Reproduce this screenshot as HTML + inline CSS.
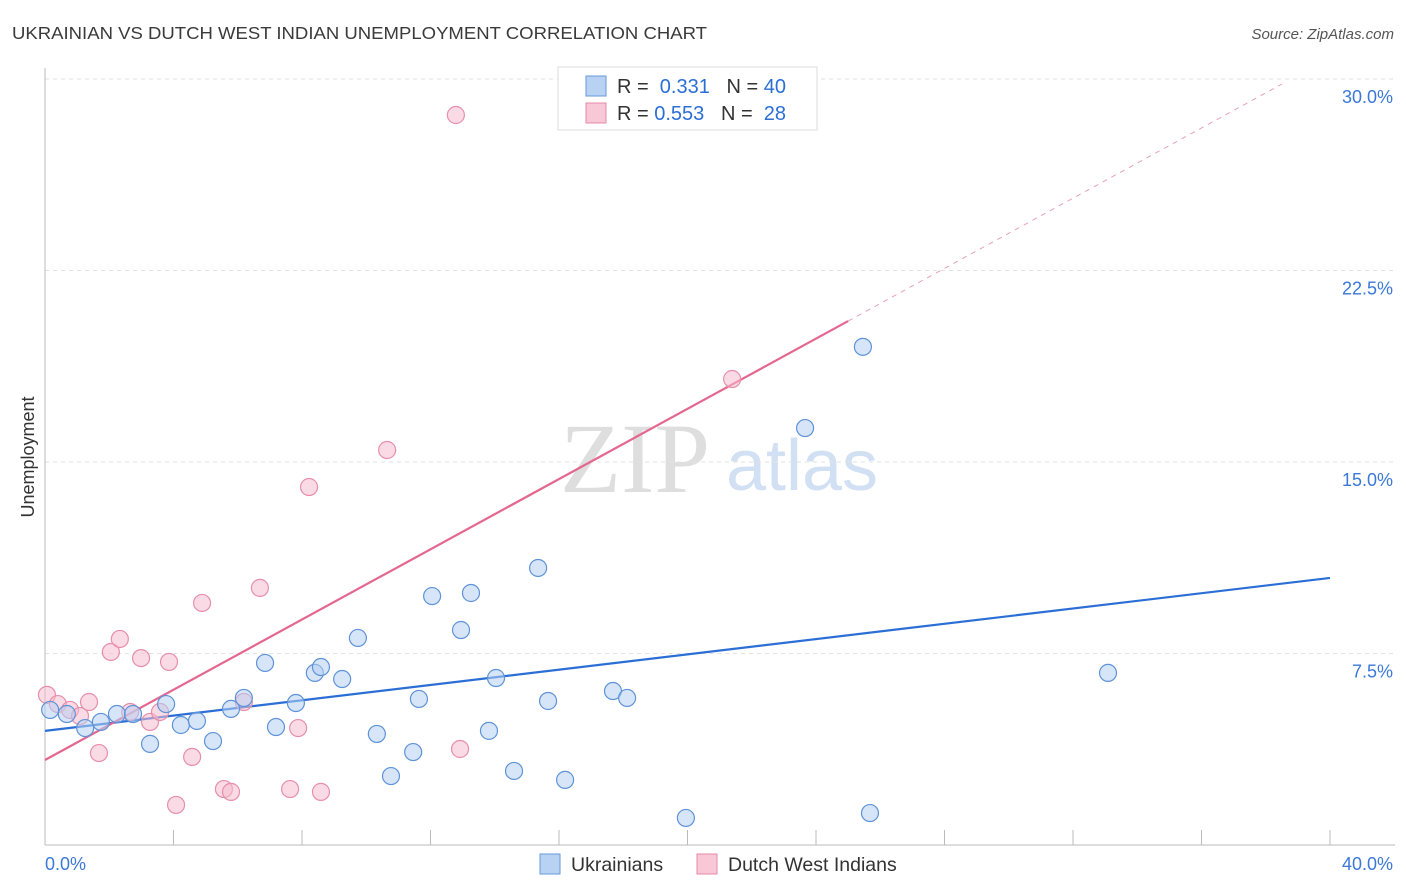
<!DOCTYPE html>
<html><head><meta charset="utf-8"><style>
body{margin:0;background:#fff;font-family:"Liberation Sans",sans-serif;}
svg{display:block}
</style></head><body>
<svg id="chart" width="1406" height="892" viewBox="0 0 1406 892" xmlns="http://www.w3.org/2000/svg">
<text x="12" y="39" font-size="17.5" fill="#3a3a3a" textLength="695" lengthAdjust="spacingAndGlyphs">UKRAINIAN VS DUTCH WEST INDIAN UNEMPLOYMENT CORRELATION CHART</text>
<text x="1394" y="39" font-size="15" fill="#555" font-style="italic" text-anchor="end">Source: ZipAtlas.com</text>
<g>
<text x="635" y="492" font-family="Liberation Serif,serif" font-size="100" fill="#dedede" text-anchor="middle">ZIP</text>
<text x="802" y="490" font-size="72" fill="#d2e0f4" text-anchor="middle">atlas</text>
</g>
<g id="grid"></g>
<g id="axes"></g>
<g id="lines"></g>
<g id="points"></g>
<g>
<rect x="558" y="67" width="259" height="63" fill="#fff" stroke="#ddd"/>
<rect x="586" y="76" width="20" height="20" fill="#b8d2f4" stroke="#6a9ad8"/>
<rect x="586" y="103" width="20" height="20" fill="#f8c8d6" stroke="#e48aa8"/>
<text x="617" y="93" font-size="20" fill="#333">R = <tspan fill="#2b6fd6">&#160;0.331</tspan>&#160;&#160;&#160;N = <tspan fill="#2b6fd6">40</tspan></text>
<text x="617" y="120" font-size="20" fill="#333">R = <tspan fill="#2b6fd6">0.553</tspan>&#160;&#160;&#160;N = <tspan fill="#2b6fd6">&#160;28</tspan></text>
</g>
<g>
<rect x="540" y="854" width="20" height="20" fill="#b8d2f4" stroke="#6a9ad8"/>
<text x="571" y="871" font-size="19.5" fill="#333">Ukrainians</text>
<rect x="697" y="854" width="20" height="20" fill="#f8c8d6" stroke="#e48aa8"/>
<text x="728" y="871" font-size="19.5" fill="#333">Dutch West Indians</text>
</g>
<text transform="translate(34,457) rotate(-90)" font-size="18" fill="#333" text-anchor="middle">Unemployment</text>
</svg>
<script>
const yTicks=[7.5,15,22.5,30];
const yTickLabels=["7.5%","15.0%","22.5%","30.0%"];
const xTicks=[0,4,8,12,16,20,24,28,32,36,40];
const blueX=[0.68,1.25,1.74,2.24,2.74,3.27,3.77,4.23,4.73,5.23,5.79,6.19,6.85,7.19,7.81,8.40,8.59,9.25,9.74,10.33,10.77,11.46,11.64,12.05,12.95,13.26,13.82,14.04,14.60,15.35,15.66,16.19,17.68,18.12,19.95,23.66,25.46,25.68,33.09,0.16];
const blueY=[5.13,4.58,4.82,5.13,5.13,3.96,5.52,4.70,4.86,4.07,5.33,5.76,7.13,4.62,5.56,6.74,6.97,6.50,8.11,4.35,2.70,3.64,5.72,9.75,8.42,9.87,4.47,6.54,2.90,10.85,5.64,2.55,6.03,5.76,1.06,16.33,19.51,1.25,6.74,5.29];
const pinkX=[0.06,0.40,0.78,1.09,1.37,1.68,2.05,2.33,2.65,2.99,3.27,3.58,3.86,4.08,4.58,4.89,5.57,5.79,6.19,6.69,7.63,7.88,8.22,8.59,10.65,12.79,12.92,21.39];
const pinkY=[5.88,5.52,5.29,5.05,5.60,3.60,7.56,8.07,5.21,7.32,4.82,5.21,7.17,1.57,3.45,9.48,2.19,2.08,5.60,10.07,2.19,4.58,14.02,2.08,15.47,28.59,3.76,18.25];
const blueLine=[[0,4.47],[40,10.46]];
const pinkLine=[[0,3.33],[25,20.52]];
const pinkDash=[[25,20.52],[38.5,29.8]];
const NS="http://www.w3.org/2000/svg";
const X=v=>45+v*(1285/40);
const Y=v=>845-v*(766/30);
function mk(t,a,p){const e=document.createElementNS(NS,t);for(const k in a)e.setAttribute(k,a[k]);p.appendChild(e);return e;}
const grid=document.getElementById('grid'),axes=document.getElementById('axes'),lines=document.getElementById('lines'),pts=document.getElementById('points');
yTicks.forEach((t,i)=>{
 const l=mk('line',{x1:45,x2:1395,y1:Y(t),y2:Y(t),stroke:'#e2e2e2','stroke-dasharray':'4,4'},grid);
 
 
 const tx=mk('text',{x:1393,y:Y(t)+24,'font-size':18,fill:'#3b78d8','text-anchor':'end'},axes);
 tx.textContent=yTickLabels[i];
 
 
});
const ax=mk('line',{x1:45,x2:1395,y1:845,y2:845,stroke:'#bbb'},axes);


const ay=mk('line',{x1:45,x2:45,y1:68,y2:845,stroke:'#bbb'},axes);


xTicks.forEach(t=>{
 const l=mk('line',{x1:X(t),x2:X(t),y1:830,y2:845,stroke:'#bbb'},axes);
 
 
});
const x0=mk('text',{x:45,y:870,'font-size':18,fill:'#3b78d8'},axes);x0.textContent='0.0%';


const x1=mk('text',{x:1393,y:870,'font-size':18,fill:'#3b78d8','text-anchor':'end'},axes);x1.textContent='40.0%';


function drawPts(xs,ys,fill,stroke,name){xs.forEach((v,i)=>{
 const c=mk('circle',{cx:X(v),cy:Y(ys[i]),r:8.5,fill:fill,'fill-opacity':0.55,stroke:stroke,'stroke-width':1.2},pts);
 
 
});}
drawPts(pinkX,pinkY,'#f6bccd','#e68fab','dutch-west-indian-point');
drawPts(blueX,blueY,'#b4cff2','#5f93d8','ukrainian-point');
function ln(p,st,w,dash,name){const l=mk('line',{x1:X(p[0][0]),y1:Y(p[0][1]),x2:X(p[1][0]),y2:Y(p[1][1]),stroke:st,'stroke-width':w},lines);if(dash)l.setAttribute('stroke-dasharray',dash);
 
 }
ln(blueLine,'#2b6fd6',2.2,null,'ukrainian-trendline');
ln(pinkLine,'#e4678f',2.2,null,'dutch-west-indian-trendline');
ln(pinkDash,'#e8a0b6',1,'5,5','dutch-west-indian-trend-extension');
</script>
</body></html>
